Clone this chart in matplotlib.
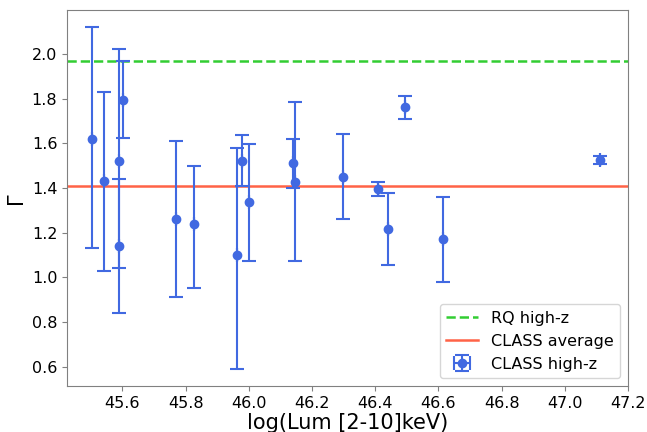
import matplotlib
matplotlib.use("Agg")
import matplotlib.pyplot as plt
import numpy as np

# Data
lum = [45.505, 45.543, 45.59, 45.59, 45.603, 45.77, 45.826, 45.964, 45.977, 46.0,
       46.14, 46.146, 46.297, 46.409, 46.439, 46.493, 46.614, 47.111]
gamma = [1.62, 1.43, 1.52, 1.14, 1.795, 1.26, 1.24, 1.10, 1.52, 1.335,
         1.51, 1.425, 1.45, 1.395, 1.215, 1.76, 1.17, 1.525]
err_up = [0.50, 0.40, 0.50, 0.30, 0.175, 0.35, 0.26, 0.48, 0.115, 0.26,
          0.11, 0.36, 0.19, 0.03, 0.16, 0.05, 0.19, 0.02]
err_lo = [0.49, 0.40, 0.48, 0.30, 0.17, 0.35, 0.29, 0.51, 0.11, 0.26,
          0.11, 0.35, 0.19, 0.03, 0.16, 0.05, 0.19, 0.02]
lum_err = [0.0] * len(lum)

rq_highz = 1.97
class_avg = 1.41

fig = plt.figure(figsize=(6.47, 4.32), dpi=100)
ax = fig.add_axes([0.1036, 0.1065, 0.867, 0.8705])

ax.axhline(rq_highz, color='limegreen', linestyle='--', linewidth=1.8, label='RQ high-z')
ax.axhline(class_avg, color='tomato', linestyle='-', linewidth=1.8, label='CLASS average')
ax.errorbar(lum, gamma, yerr=[err_lo, err_up], xerr=lum_err, fmt='o', color='royalblue',
            ms=6, elinewidth=1.5, capsize=5, capthick=1.5, label='CLASS high-z')

ax.set_xticks(np.arange(45.6, 47.21, 0.2))
ax.set_yticks(np.arange(0.6, 2.01, 0.2))
ax.tick_params(labelsize=11.5, color='gray')
for s in ax.spines.values():
    s.set_color('gray')

ax.set_xlabel('log(Lum [2-10]keV)', fontsize=15, labelpad=2)
ax.set_ylabel('Γ', fontsize=15)

ax.legend(loc='lower right', fontsize=11.5)

fig.savefig('out.png', dpi=100)
